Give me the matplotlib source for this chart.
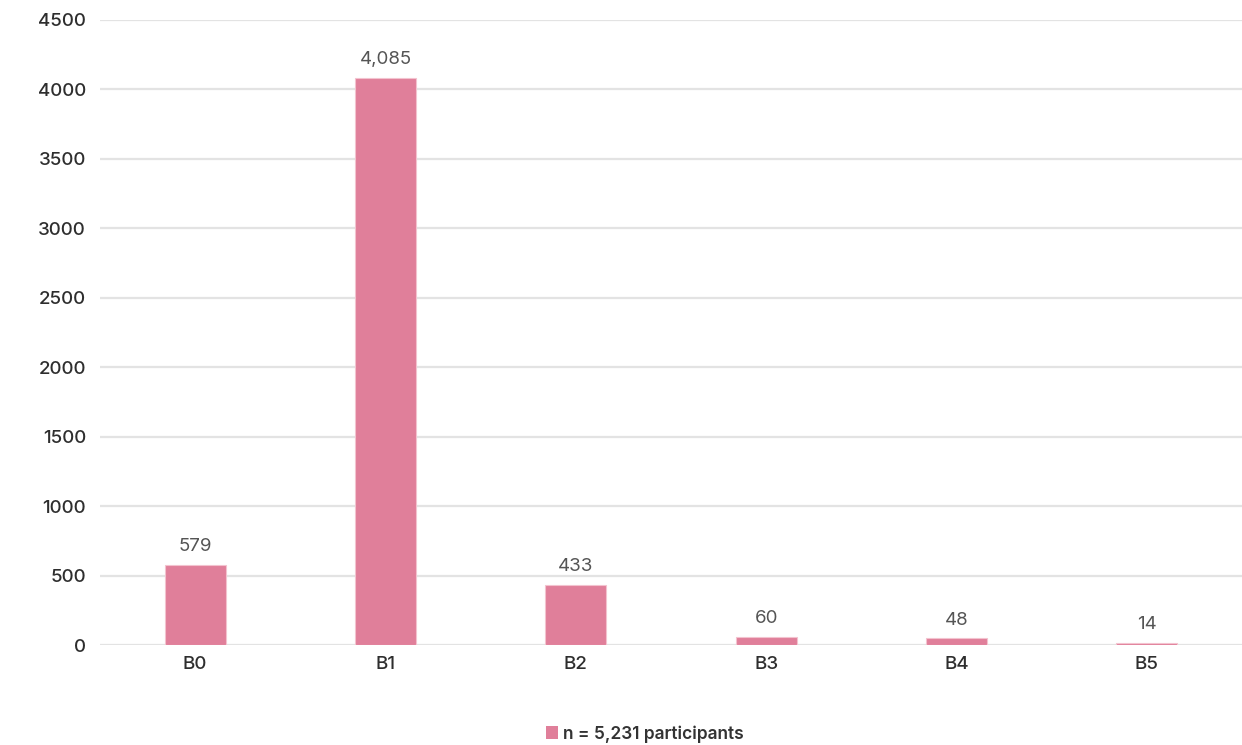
import matplotlib
matplotlib.use("Agg")
import matplotlib.pyplot as plt
from matplotlib.patches import Patch

categories = ["B0", "B1", "B2", "B3", "B4", "B5"]
counts = [579, 4085, 433, 60, 48, 14]
y_ticks = [0, 500, 1000, 1500, 2000, 2500, 3000, 3500, 4000, 4500]
legend_label = "n = 5,231 participants"

bar_color = "#E07F9A"
grid_color = "#E3E3E3"

plt.rcParams["font.family"] = ["Inter", "DejaVu Sans"]

fig = plt.figure(figsize=(12.42, 7.45), dpi=100)
ax = fig.add_axes([0.0805, 0.1342, 0.9195, 0.839])

x = list(range(len(categories)))
bars = ax.bar(x, counts, width=0.32, color=bar_color, edgecolor="#F3C3CF",
              linewidth=0.8, zorder=3)

for xi, v in zip(x, counts):
    ax.text(xi, v + 70, f"{v:,}", ha="center", va="bottom",
            fontsize=13.5, color="#555555")

ax.set_xlim(-0.5, len(categories) - 0.5)
ax.set_ylim(0, 4500)
ax.set_yticks(y_ticks)
ax.set_yticklabels([str(t) for t in y_ticks])
ax.set_xticks(x)
ax.set_xticklabels(categories)

ax.tick_params(axis="y", length=0, pad=10, labelsize=13.5, labelcolor="#2E2E2E")
ax.tick_params(axis="x", length=0, pad=8, labelsize=13.5, labelcolor="#2E2E2E")
for lbl in ax.get_yticklabels() + ax.get_xticklabels():
    lbl.set_fontweight("medium")

ax.grid(axis="y", color=grid_color, linewidth=1.6, zorder=0)
ax.set_axisbelow(True)
for s in ax.spines.values():
    s.set_visible(False)

handle = Patch(facecolor=bar_color, edgecolor="none")
fig.legend([handle], [legend_label], loc="center", bbox_to_anchor=(0.519, 0.015),
           frameon=False, handlelength=0.7, handleheight=0.7, handletextpad=0.3,
           prop={"size": 12.5, "weight": "semibold"}, labelcolor="#333333")

fig.savefig("out.png", dpi=100)
